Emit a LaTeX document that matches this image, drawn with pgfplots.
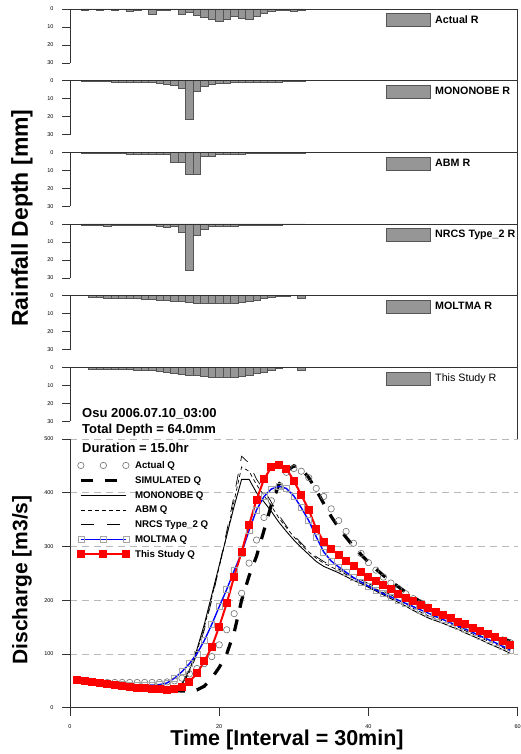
\documentclass[border=0pt]{standalone}
\usepackage{fontspec}
\setmainfont{Liberation Sans}
\usepackage{pgfplots}
\usepackage{pgfplotstable}
\pgfplotsset{compat=1.18}

\definecolor{barfill}{RGB}{150,150,150}
\definecolor{baredge}{RGB}{85,85,85}
\definecolor{gridgray}{RGB}{185,185,185}
\definecolor{circgray}{RGB}{110,110,110}
\definecolor{sqgray}{RGB}{165,165,165}
\definecolor{axgray}{RGB}{50,50,50}

\pgfplotstableread{
t act sim mon abm nrcs molt study
1 52 52 52 52 52 51 52
2 50 50 50 50 50 49 50
3 48 48 48 48 48 47 48
4 47 46 46 46 46 46 46
5 47 44 44 44 44 45 44
6 47 42 42 42 42 44 42
7 47 40 40.5 40.5 40.5 43 40
8 47 38.5 39 39 39 42 38.5
9 47 37 38 38 38 42 37
10 47 36 37 37 37 42 36
11 47 35 36 36 36 42 35
12 47 34 35.5 35.5 35.5 43 34
13 48 33 35 35 35 46 33.5
14 50 32 36 36 36 55 34
15 55 31 45 44 44 67 39
16 63 31 70 66 64 82 48
17 73 33 108 104 100 100 64
18 82 40 155 150 145 125 86
19 95 55 210 205 200 155 113
20 117 75 265 262 262 188 151
21 145 100 320 320 328 220 194
22 175 140 375 385 395 255 244
23 213 200 425 448 468 288 290
24 269 245 425 440 455 330 340
25 312 282 400 415 425 368 387
26 354 330 383 395 405 393 425
27 385 378 365 375 382 407 448
28 412 415 345 353 358 412 452
29 438 440 328 335 338 408 445
30 445 450 312 318 321 394 422
31 440 445 298 303 306 372 396
32 428 428 285 290 293 348 368
33 408 405 272 278 281 318 333
34 393 380 263 269 272 290 309
35 370 356 257 262 265 273 296
36 348 335 251 255 258 262 284
37 328 317 244 248 251 252 273
38 306 300 237 241 244 242 263
39 287 285 231 235 238 234 253
40 270 271 224 228 231 226 244
41 256 258 217 221 224 219 236
42 243 246 210 214 217 212 228
43 232 235 203 207 210 206 220
44 222 225 196 200 203 200 212
45 212 215 189 193 196 194 205
46 203 206 181 185 188 188 198
47 195 197 174 178 181 182 191
48 187 189 167 171 174 176 185
49 179 181 162 166 169 170 178
50 172 174 157 161 164 164 172
51 165 167 151 155 158 158 166
52 159 161 146 150 153 152 160
53 153 155 139 143 146 146 155
54 147 149 133 137 140 140 149
55 141 143 127 131 134 133 143
56 136 138 120 124 127 127 137
57 131 133 114 118 121 121 131
58 126 128 108 112 115 114 125
59 121 124 101 105 108 107 117
}\Qdata

\pgfplotsset{
  hyeto/.style={
    scale only axis, width=447.7pt, height=54pt,
    xmin=0, xmax=60, ymin=0, ymax=30, y dir=reverse,
    axis x line=none, axis y line*=left,
    axis line style={-, line width=0.8pt, axgray},
    ytick={0,10,20,30}, tick align=outside, major tick length=8pt,
    tick style={axgray, line width=0.8pt},
    yticklabel style={font=\fontsize{5.5}{6}\selectfont, xshift=-5pt},
    /pgf/number format/assume math mode=true,
    clip=false,
    ybar, bar width=7.47pt, bar shift=0pt,
    legend style={draw=none, fill=none, at={(axis cs:42.3,6.1)}, anchor=west,
      inner sep=0pt, outer sep=0pt, nodes={inner sep=0pt},
      /tikz/every odd column/.append style={column sep=5pt},
      font=\fontsize{10.7}{13}\selectfont\bfseries},
    legend image code/.code={\draw[fill=barfill, draw=baredge, line width=0.6pt] (0pt,-6.5pt) rectangle (44pt,6.5pt);},
    anchor=origin,
  },
  hbars/.style={fill=barfill, draw=baredge, line width=0.5pt},
}

\begin{document}
\begin{tikzpicture}
\useasboundingbox (0pt,0pt) rectangle (520pt,754pt);

% Panel 1: Actual
\begin{axis}[hyeto, at={(70pt,745pt)}]
\addplot[hbars] coordinates {(2,0.8) (3,0.3) (4,0.8) (5,0.3) (6,0.8) (7,0.3) (8,1.0) (9,0.8) (10,0.3) (11,3.2) (12,0.5) (13,0.8) (14,0.3) (15,3.0) (16,1.7) (17,3.6) (18,4.5) (19,5.7) (20,6.8) (21,5.9) (22,4.3) (23,5.3) (24,5.9) (25,4.2) (26,2.6) (27,1.0) (28,0.8) (29,0.5) (30,1.5) (31,0.5)};
\addlegendentry{Actual R}
\draw[axgray, line width=0.8pt] (axis cs:0,0) -- (axis cs:60,0);
\end{axis}

% Panel 2: Mononobe
\begin{axis}[hyeto, at={(70pt,673.33pt)}]
\addplot[hbars] coordinates {(2,0.45) (3,0.5) (4,0.55) (5,0.6) (6,0.65) (7,0.7) (8,0.75) (9,0.85) (10,0.95) (11,1.1) (12,1.3) (13,1.8) (14,2.6) (15,4.0) (16,21.3) (17,6.0) (18,3.0) (19,2.1) (20,1.6) (21,1.3) (22,1.15) (23,1.0) (24,0.9) (25,0.85) (26,0.8) (27,0.7) (28,0.65) (29,0.6) (30,0.55) (31,0.5)};
\addlegendentry{MONONOBE R}
\draw[axgray, line width=0.8pt] (axis cs:0,0) -- (axis cs:60,0);
\end{axis}

% Panel 3: ABM
\begin{axis}[hyeto, at={(70pt,601.67pt)}]
\addplot[hbars] coordinates {(2,0.4) (3,0.4) (4,0.4) (5,0.4) (6,0.4) (7,0.4) (8,1.1) (9,1.1) (10,1.1) (11,1.1) (12,1.1) (13,1.1) (14,5.4) (15,5.4) (16,12.0) (17,12.0) (18,2.0) (19,2.0) (20,1.1) (21,1.1) (22,1.1) (23,1.1) (24,0.6) (25,0.6) (26,0.6) (27,0.6) (28,0.6) (29,0.6) (30,0.6) (31,0.6)};
\addlegendentry{ABM R}
\draw[axgray, line width=0.8pt] (axis cs:0,0) -- (axis cs:60,0);
\end{axis}

% Panel 4: NRCS
\begin{axis}[hyeto, at={(70pt,530pt)}]
\addplot[hbars] coordinates {(2,0.5) (3,0.5) (4,0.6) (5,1.0) (6,0.6) (7,0.6) (8,0.7) (9,0.7) (10,0.8) (11,0.9) (12,1.0) (13,1.9) (14,1.3) (15,4.4) (16,25.5) (17,6.5) (18,3.1) (19,1.4) (20,1.1) (21,1.0) (22,1.3) (23,0.8) (24,0.7) (25,0.6) (26,0.6) (27,0.5) (28,0.5) (29,0.4) (30,0.4) (31,0.0)};
\addlegendentry{NRCS Type\_2 R}
\draw[axgray, line width=0.8pt] (axis cs:0,0) -- (axis cs:60,0);
\end{axis}

% Panel 5: MOLTMA
\begin{axis}[hyeto, at={(70pt,458.33pt)}]
\addplot[hbars] coordinates {(2,0) (3,0.9) (4,1.1) (5,1.2) (6,1.3) (7,1.4) (8,1.5) (9,1.6) (10,1.8) (11,2.0) (12,2.3) (13,2.6) (14,3.0) (15,3.3) (16,3.7) (17,4.0) (18,4.3) (19,4.4) (20,4.4) (21,4.3) (22,4.0) (23,3.7) (24,3.2) (25,2.5) (26,1.7) (27,1.0) (28,0.4) (29,0.2) (30,0) (31,1.7)};
\addlegendentry{MOLTMA R}
\draw[axgray, line width=0.8pt] (axis cs:0,0) -- (axis cs:60,0);
\end{axis}

% Panel 6: This Study
\begin{axis}[hyeto, at={(70pt,386.67pt)}]
\addplot[hbars] coordinates {(2,0) (3,1.0) (4,1.0) (5,1.1) (6,1.1) (7,1.2) (8,1.3) (9,1.4) (10,1.6) (11,1.9) (12,2.3) (13,2.7) (14,3.1) (15,3.6) (16,4.2) (17,4.6) (18,5.1) (19,5.4) (20,5.6) (21,5.7) (22,5.5) (23,5.0) (24,4.3) (25,3.4) (26,2.5) (27,1.5) (28,0.6) (29,0) (30,0) (31,1.5)};
\addlegendentry{\mdseries This Study R}
\draw[axgray, line width=0.8pt] (axis cs:0,0) -- (axis cs:60,0);
\end{axis}

% right border of rainfall panels
\draw[axgray, line width=0.8pt] (517.7pt,745pt) -- (517.7pt,315pt);

% Hydrograph
\begin{axis}[
  at={(70pt,46.3pt)}, anchor=origin,
  scale only axis, width=447.7pt, height=268.7pt,
  xmin=0, xmax=60, ymin=0, ymax=500,
  axis x line*=bottom, axis y line*=left,
  axis line style={-, line width=0.8pt, axgray},
  xtick={0,20,40,60}, ytick={0,100,200,300,400,500},
  tick align=outside, major tick length=8pt,
  tick style={axgray, line width=0.8pt},
  ymajorgrids, grid style={gridgray, dash pattern=on 7pt off 5pt, line width=0.8pt},
  yticklabel style={font=\fontsize{5.5}{6}\selectfont, xshift=-5pt},
  xticklabel style={font=\fontsize{5.5}{6}\selectfont, yshift=-5pt},
  /pgf/number format/assume math mode=true,
  legend cell align=left,
  legend style={at={(axis cs:0.6,466)}, anchor=north west, draw=none, fill=none,
    font=\fontsize{9.7}{11}\selectfont\bfseries, row sep=2.8pt,
    nodes={inner sep=1pt, text height=8pt, text depth=2pt},
    /tikz/every even column/.append style={column sep=6pt},
    /tikz/every odd column/.append style={column sep=5pt}},
  legend image code/.code={\draw[#1, mark repeat=1] plot coordinates {(0pt,0pt) (22.5pt,0pt) (45pt,0pt)};},
]
\addplot[only marks, mark=o, mark size=3.2pt, circgray, line width=0.6pt] table[x=t, y=act] {\Qdata};
\addlegendentry{Actual Q}
\addplot[black, line width=3.2pt, dash pattern=on 12pt off 12pt] table[x=t, y=sim] {\Qdata};
\addlegendentry{SIMULATED Q}
\addplot[black, line width=0.9pt] table[x=t, y=mon] {\Qdata};
\addlegendentry{MONONOBE Q}
\addplot[black, line width=0.7pt, dash pattern=on 4pt off 3pt] table[x=t, y=abm] {\Qdata};
\addlegendentry{ABM Q}
\addplot[black, line width=0.7pt, dash pattern=on 13pt off 13pt] table[x=t, y=nrcs] {\Qdata};
\addlegendentry{NRCS Type\_2 Q}
\addplot[blue, line width=1.4pt, mark=square, mark size=3pt, mark options={draw=sqgray, line width=0.6pt, solid}] table[x=t, y=molt] {\Qdata};
\addlegendentry{MOLTMA Q}
\addplot[red, line width=2pt, mark=square*, mark size=3pt, mark options={fill=red, draw=red, solid}] table[x=t, y=study] {\Qdata};
\addlegendentry{This Study Q}
\end{axis}

% texts
\node[anchor=west, inner sep=0pt, font=\fontsize{13}{15}\selectfont\bfseries] at (82pt,340pt) {Osu 2006.07.10\_03:00};
\node[anchor=west, inner sep=0pt, font=\fontsize{13}{15}\selectfont\bfseries] at (82pt,324pt) {Total Depth = 64.0mm};
\node[anchor=west, inner sep=0pt, font=\fontsize{13}{15}\selectfont\bfseries] at (82pt,306pt) {Duration = 15.0hr};

\node[rotate=90, inner sep=0pt, font=\fontsize{23}{27}\selectfont\bfseries] at (22pt,536pt) {Rainfall Depth [mm]};
\node[rotate=90, inner sep=0pt, font=\fontsize{21}{25}\selectfont\bfseries] at (22pt,174pt) {Discharge [m3/s]};
\node[inner sep=0pt, font=\fontsize{21.5}{25}\selectfont\bfseries] at (287pt,14pt) {Time [Interval = 30min]};
\end{tikzpicture}
\end{document}
